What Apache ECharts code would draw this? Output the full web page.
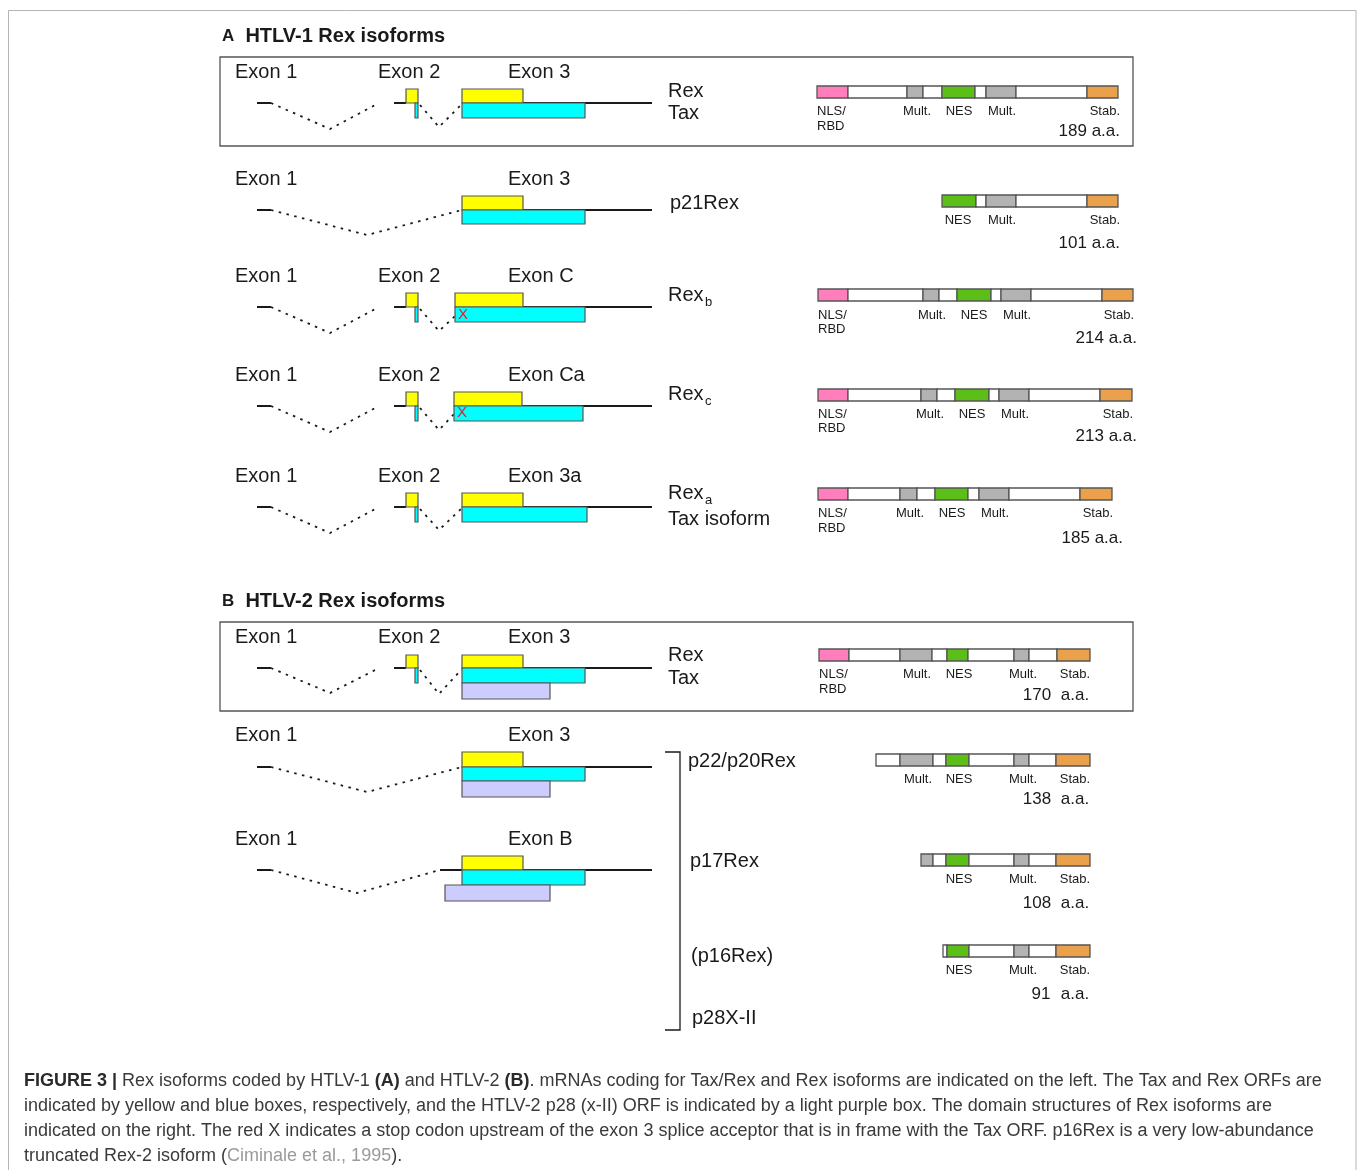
<!DOCTYPE html>
<html>
<head>
<meta charset="utf-8">
<script src="https://cdn.jsdelivr.net/npm/echarts@6/dist/echarts.min.js"></script>
<style>
  html, body { margin: 0; padding: 0; background: #fff; }
  #chart { width: 1357px; height: 1170px; }
</style>
</head>
<body>
<div id="chart"></div>
<script>
// figure units: x 0..1357, y 0..1170 (y down), mapped through hidden value axes

// panel frames [x0, y0, x1, y1]
var frames = [[220, 57, 1133, 146], [220, 622, 1133, 711]];

// exon headings [text, x, y]
var exonLabels = [
  ['Exon 1', 235, 72], ['Exon 2', 378, 72], ['Exon 3', 508, 72],
  ['Exon 1', 235, 179], ['Exon 3', 508, 179],
  ['Exon 1', 235, 276], ['Exon 2', 378, 276], ['Exon C', 508, 276],
  ['Exon 1', 235, 375], ['Exon 2', 378, 375], ['Exon Ca', 508, 375],
  ['Exon 1', 235, 476], ['Exon 2', 378, 476], ['Exon 3a', 508, 476],
  ['Exon 1', 235, 637], ['Exon 2', 378, 637], ['Exon 3', 508, 637],
  ['Exon 1', 235, 735], ['Exon 3', 508, 735],
  ['Exon 1', 235, 839], ['Exon B', 508, 839]
];

// isoform names [text, x, y]
var isoformLabels = [
  ['Rex', 668, 91], ['Tax', 668, 113], ['p21Rex', 670, 203],
  ['Rex', 668, 295], ['Rex', 668, 394], ['Rex', 668, 493], ['Tax isoform', 668, 519],
  ['Rex', 668, 655], ['Tax', 668, 678],
  ['p22/p20Rex', 688, 761], ['p17Rex', 690, 861], ['(p16Rex)', 691, 956], ['p28X-II', 692, 1018]
];
var subscripts = [['b', 705, 302], ['c', 705, 401], ['a', 705, 500]];

// transcript backbone lines [x0, x1, y]
var solidLines = [
  [257, 271, 103], [394, 406, 103], [462, 652, 103],
  [257, 271, 210], [462, 652, 210],
  [257, 271, 307], [394, 406, 307], [455, 652, 307],
  [257, 271, 406], [394, 406, 406], [454, 652, 406],
  [257, 271, 507], [394, 406, 507], [462, 652, 507],
  [257, 271, 668], [394, 406, 668], [462, 652, 668],
  [257, 271, 767], [462, 652, 767],
  [257, 271, 870], [440, 652, 870]
];

// splice junctions (dotted) [x0, y0, x1, y1, x2, y2]
var splices = [
  [271, 103, 330, 129, 379, 103], [420, 105, 439, 127, 462, 104],
  [271, 210, 367, 235, 462, 210],
  [271, 307, 330, 333, 379, 307], [420, 309, 439, 331, 455, 316],
  [271, 406, 330, 432, 379, 406], [420, 408, 439, 430, 454, 414],
  [271, 507, 330, 533, 379, 507], [420, 509, 439, 530, 462, 508],
  [271, 668, 330, 693, 379, 668], [420, 670, 439, 694, 462, 669],
  [271, 767, 367, 792, 462, 767],
  [271, 870, 357, 893, 440, 870]
];

// ORF boxes [x0, x1, yTop, yBottom, orf]
var orfBoxes = [
  [406, 418, 89, 103, 'rex'], [415, 418, 103, 118, 'tax'], [462, 523, 89, 103, 'rex'], [462, 585, 103, 118, 'tax'],
  [462, 523, 196, 210, 'rex'], [462, 585, 210, 224, 'tax'],
  [406, 418, 293, 307, 'rex'], [415, 418, 307, 322, 'tax'], [455, 523, 293, 307, 'rex'], [455, 585, 307, 322, 'tax'],
  [406, 418, 392, 406, 'rex'], [415, 418, 406, 421, 'tax'], [454, 522, 392, 406, 'rex'], [454, 583, 406, 421, 'tax'],
  [406, 418, 493, 507, 'rex'], [415, 418, 507, 522, 'tax'], [462, 523, 493, 507, 'rex'], [462, 587, 507, 522, 'tax'],
  [406, 418, 655, 668, 'rex'], [415, 418, 668, 683, 'tax'], [462, 523, 655, 668, 'rex'], [462, 585, 668, 683, 'tax'], [462, 550, 683, 699, 'p28'],
  [462, 523, 752, 767, 'rex'], [462, 585, 767, 781, 'tax'], [462, 550, 781, 797, 'p28'],
  [462, 523, 856, 870, 'rex'], [462, 585, 870, 885, 'tax'], [445, 550, 885, 901, 'p28']
];
var stopCodons = [[463, 315], [462, 413]];

// bracket for HTLV-2 minor isoforms [x, yTop, yBottom]
var bracket = [665, 680, 752, 1030];

// Rex protein domain maps
var proteinTop = [86, 195, 289, 389, 488, 649, 754, 854, 945];
var proteinBounds = [
  [817, 848, 907, 923, 942, 975, 986, 1016, 1087, 1118],
  [942, 976, 986, 1016, 1087, 1118],
  [818, 848, 923, 939, 957, 991, 1001, 1031, 1102, 1133],
  [818, 848, 921, 937, 955, 989, 999, 1029, 1100, 1132],
  [818, 848, 900, 917, 935, 968, 979, 1009, 1080, 1112],
  [819, 849, 900, 932, 947, 968, 1014, 1029, 1057, 1090],
  [876, 900, 933, 946, 969, 1014, 1029, 1056, 1090],
  [921, 933, 946, 969, 1014, 1029, 1056, 1090],
  [943, 947, 969, 1014, 1029, 1056, 1090]
];
var proteinKinds = ['PWMWNWMWS', 'NWMWS', 'PWMWNWMWS', 'PWMWNWMWS', 'PWMWNWMWS',
  'PWMWNWMWS', 'WMWNWMWS', 'MWNWMWS', 'WNWMWS'];

// domain captions [text, x, y, align]
var domainLabels = [
  ['NLS/', 817, 111, 'left'], ['RBD', 817, 126, 'left'], ['Mult.', 917, 111, 'center'], ['NES', 959, 111, 'center'], ['Mult.', 1002, 111, 'center'], ['Stab.', 1120, 111, 'right'],
  ['NES', 958, 220, 'center'], ['Mult.', 1002, 220, 'center'], ['Stab.', 1120, 220, 'right'],
  ['NLS/', 818, 315, 'left'], ['RBD', 818, 329, 'left'], ['Mult.', 932, 315, 'center'], ['NES', 974, 315, 'center'], ['Mult.', 1017, 315, 'center'], ['Stab.', 1134, 315, 'right'],
  ['NLS/', 818, 414, 'left'], ['RBD', 818, 428, 'left'], ['Mult.', 930, 414, 'center'], ['NES', 972, 414, 'center'], ['Mult.', 1015, 414, 'center'], ['Stab.', 1133, 414, 'right'],
  ['NLS/', 818, 513, 'left'], ['RBD', 818, 528, 'left'], ['Mult.', 910, 513, 'center'], ['NES', 952, 513, 'center'], ['Mult.', 995, 513, 'center'], ['Stab.', 1113, 513, 'right'],
  ['NLS/', 819, 674, 'left'], ['RBD', 819, 689, 'left'], ['Mult.', 917, 674, 'center'], ['NES', 959, 674, 'center'], ['Mult.', 1023, 674, 'center'], ['Stab.', 1075, 674, 'center'],
  ['Mult.', 918, 779, 'center'], ['NES', 959, 779, 'center'], ['Mult.', 1023, 779, 'center'], ['Stab.', 1075, 779, 'center'],
  ['NES', 959, 879, 'center'], ['Mult.', 1023, 879, 'center'], ['Stab.', 1075, 879, 'center'],
  ['NES', 959, 970, 'center'], ['Mult.', 1023, 970, 'center'], ['Stab.', 1075, 970, 'center']
];
// protein lengths [text, x, y, align]
var lengthLabels = [
  ['189 a.a.', 1120, 131, 'right'], ['101 a.a.', 1120, 243, 'right'], ['214 a.a.', 1137, 338, 'right'],
  ['213 a.a.', 1137, 436, 'right'], ['185 a.a.', 1123, 538, 'right'],
  ['170', 1037, 695, 'center'], ['a.a.', 1075, 695, 'center'],
  ['138', 1037, 799, 'center'], ['a.a.', 1075, 799, 'center'],
  ['108', 1037, 903, 'center'], ['a.a.', 1075, 903, 'center'],
  ['91', 1041, 994, 'center'], ['a.a.', 1075, 994, 'center']
];

var titles = [['{a|A}  {t|HTLV-1 Rex isoforms}', 222, 36], ['{a|B}  {t|HTLV-2 Rex isoforms}', 222, 601]];
var captionLines = [
  '{b|FIGURE 3 |} Rex isoforms coded by HTLV-1 {b|(A)} and HTLV-2 {b|(B)}. mRNAs coding for Tax/Rex and Rex isoforms are indicated on the left. The Tax and Rex ORFs are',
  'indicated by yellow and blue boxes, respectively, and the HTLV-2 p28 (x-II) ORF is indicated by a light purple box. The domain structures of Rex isoforms are',
  'indicated on the right. The red X indicates a stop codon upstream of the exon 3 splice acceptor that is in frame with the Tax ORF. p16Rex is a very low-abundance',
  'truncated Rex-2 isoform ({g|Ciminale et al., 1995}).'
];
var captionY = [1081, 1106, 1131, 1156];

var FONT = '"Liberation Sans", Arial, sans-serif';
var orfColors = { rex: '#ffff00', tax: '#00ffff', p28: '#ccccff' };
var domainColors = { P: '#ff7ebb', W: '#ffffff', M: '#b3b3b3', N: '#5cbf17', S: '#eba04b' };

function box(api, x0, y0, x1, y1) {
  var a = api.coord([x0, y0]), b = api.coord([x1, y1]);
  return { x: Math.min(a[0], b[0]), y: Math.min(a[1], b[1]),
           width: Math.abs(b[0] - a[0]), height: Math.abs(b[1] - a[1]) };
}

function textSeries(list, size, weight, color) {
  return {
    type: 'custom', silent: true, clip: false,
    data: list.map(function(t) { return [t[1], t[2]]; }),
    renderItem: function(params, api) {
      var t = list[params.dataIndex];
      var p = api.coord([t[1], t[2]]);
      return { type: 'text', x: p[0], y: p[1],
        style: { text: t[0], font: weight + ' ' + size + 'px ' + FONT, fill: color,
                 align: t[3] || 'left', verticalAlign: 'middle' } };
    }
  };
}

// flatten protein domains
var domains = [];
proteinBounds.forEach(function(bounds, r) {
  for (var i = 0; i < bounds.length - 1; i++) {
    domains.push([bounds[i], bounds[i + 1], proteinTop[r], proteinKinds[r][i]]);
  }
});

var chart = echarts.init(document.getElementById('chart'));

var option = {
  animation: false,
  backgroundColor: '#fff',
  grid: { left: 0, right: 0, top: 0, bottom: 0 },
  xAxis: { type: 'value', min: 0, max: 1357, show: false },
  yAxis: { type: 'value', min: 0, max: 1170, inverse: true, show: false },
  series: [
    { // outer figure border
      type: 'custom', silent: true, clip: false, data: [[8, 10]],
      renderItem: function(params, api) {
        return { type: 'rect', shape: box(api, 8.5, 10.5, 1356, 1200),
          style: { fill: null, stroke: '#b5b5b5', lineWidth: 1 } };
      }
    },
    { // panel frames
      type: 'custom', silent: true, clip: false,
      data: frames.map(function(f) { return [f[0], f[1]]; }),
      renderItem: function(params, api) {
        var f = frames[params.dataIndex];
        return { type: 'rect', shape: box(api, f[0], f[1], f[2], f[3]),
          style: { fill: null, stroke: '#555', lineWidth: 1.3 } };
      }
    },
    { // transcript lines
      type: 'custom', silent: true, clip: false,
      data: solidLines.map(function(l) { return [l[0], l[2]]; }),
      renderItem: function(params, api) {
        var l = solidLines[params.dataIndex];
        var a = api.coord([l[0], l[2]]), b = api.coord([l[1], l[2]]);
        return { type: 'line', shape: { x1: a[0], y1: a[1], x2: b[0], y2: b[1] },
          style: { stroke: '#1a1a1a', lineWidth: 2 } };
      }
    },
    { // splicing
      type: 'custom', silent: true, clip: false,
      data: splices.map(function(s) { return [s[0], s[1]]; }),
      renderItem: function(params, api) {
        var s = splices[params.dataIndex];
        var pts = [api.coord([s[0], s[1]]), api.coord([s[2], s[3]]), api.coord([s[4], s[5]])];
        return { type: 'polyline', shape: { points: pts },
          style: { fill: null, stroke: '#1a1a1a', lineWidth: 1.8, lineDash: [2.5, 5.5] } };
      }
    },
    { // ORFs
      type: 'custom', silent: true, clip: false,
      data: orfBoxes.map(function(o) { return [o[0], o[2]]; }),
      renderItem: function(params, api) {
        var o = orfBoxes[params.dataIndex];
        return { type: 'rect', shape: box(api, o[0], o[2], o[1], o[3]),
          style: { fill: orfColors[o[4]], stroke: '#555', lineWidth: 1.2 } };
      }
    },
    { // stop codons
      type: 'custom', silent: true, clip: false,
      data: stopCodons,
      renderItem: function(params, api) {
        var p = api.coord(stopCodons[params.dataIndex]);
        return { type: 'text', x: p[0], y: p[1],
          style: { text: 'X', font: '15px ' + FONT, fill: '#e0202a', align: 'center', verticalAlign: 'middle' } };
      }
    },
    { // bracket
      type: 'custom', silent: true, clip: false,
      data: [[bracket[0], bracket[2]]],
      renderItem: function(params, api) {
        var pts = [api.coord([bracket[0], bracket[2]]), api.coord([bracket[1], bracket[2]]),
                   api.coord([bracket[1], bracket[3]]), api.coord([bracket[0], bracket[3]])];
        return { type: 'polyline', shape: { points: pts },
          style: { fill: null, stroke: '#1a1a1a', lineWidth: 1.3 } };
      }
    },
    { // protein domains
      type: 'custom', silent: true, clip: false,
      data: domains.map(function(d) { return [d[0], d[2]]; }),
      renderItem: function(params, api) {
        var d = domains[params.dataIndex];
        return { type: 'rect', shape: box(api, d[0], d[2], d[1], d[2] + 12),
          style: { fill: domainColors[d[3]], stroke: '#555', lineWidth: 1.3 } };
      }
    },
    textSeries(exonLabels, 20, 'normal', '#1a1a1a'),
    textSeries(isoformLabels, 20, 'normal', '#1a1a1a'),
    textSeries(subscripts, 13, 'normal', '#1a1a1a'),
    textSeries(domainLabels, 13, 'normal', '#1a1a1a'),
    textSeries(lengthLabels, 17, 'normal', '#1a1a1a'),
    { // panel titles
      type: 'custom', silent: true, clip: false,
      data: titles.map(function(t) { return [t[1], t[2]]; }),
      renderItem: function(params, api) {
        var t = titles[params.dataIndex];
        var p = api.coord([t[1], t[2]]);
        return { type: 'text', x: p[0], y: p[1],
          style: { text: t[0], font: 'bold 20px ' + FONT, fill: '#1a1a1a', verticalAlign: 'middle',
            rich: { a: { fontSize: 17, fontWeight: 'bold', fontFamily: FONT, fill: '#1a1a1a' },
                    t: { fontSize: 20, fontWeight: 'bold', fontFamily: FONT, fill: '#1a1a1a' } } } };
      }
    },
    { // caption
      type: 'custom', silent: true, clip: false,
      data: captionY.map(function(y) { return [24, y]; }),
      renderItem: function(params, api) {
        var p = api.coord([24, captionY[params.dataIndex]]);
        return { type: 'text', x: p[0], y: p[1],
          style: { text: captionLines[params.dataIndex], font: '18px ' + FONT, fill: '#3a3a3a',
            verticalAlign: 'middle',
            rich: { b: { fontSize: 18, fontWeight: 'bold', fontFamily: FONT, fill: '#2a2a2a' },
                    g: { fontSize: 18, fontFamily: FONT, fill: '#9a9a9a' } } } };
      }
    }
  ]
};

chart.setOption(option);
</script>
</body>
</html>
